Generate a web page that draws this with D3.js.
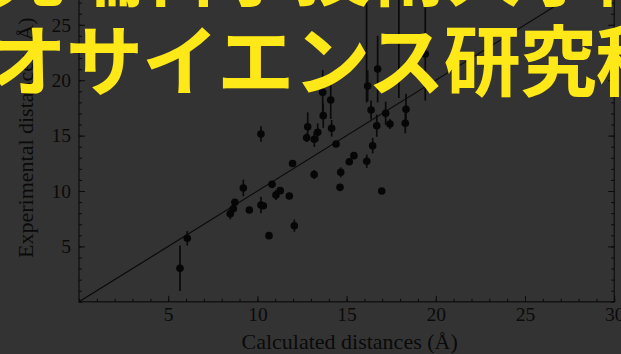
<!DOCTYPE html>
<html>
<head>
<meta charset="utf-8">
<script src="https://cdn.jsdelivr.net/npm/d3@7"></script>
<style>
  html, body { margin: 0; padding: 0; background: #333333; overflow: hidden; }
  svg { display: block; }
</style>
</head>
<body>
<script>
// Calculated vs. experimental inter-label distances (Å), with error bars
const calcDist = [5.66, 6.07, 8.48, 8.65, 8.74, 9.21, 9.55, 10.20, 10.33, 10.20,
  10.65, 10.82, 11.04, 11.28, 11.79, 11.97, 12.07, 12.76, 12.82, 13.18,
  13.19, 13.38, 13.66, 13.69, 14.11, 14.16, 14.41, 14.63, 14.67, 15.15,
  15.41, 16.12, 16.13, 16.18, 16.37, 16.46, 16.69, 16.74, 16.97, 17.19,
  17.43, 17.93, 18.29, 18.33, 19.41];
const expDist = [3.02, 5.73, 7.95, 8.40, 8.98, 10.27, 8.29, 8.74, 8.67, 15.14,
  5.97, 10.60, 9.64, 10.03, 9.55, 12.48, 6.87, 14.81, 15.80, 11.49,
  14.67, 15.30, 18.91, 16.80, 18.21, 15.66, 14.24, 10.33, 11.69, 12.64,
  13.19, 29.0, 12.69, 19.48, 17.31, 14.09, 15.89, 21.0, 10.00, 17.01,
  16.05, 29.0, 16.11, 17.37, 22.36];
const expErr = [2.05, 0.65, 0.5, 0.3, 0, 0.75, 0, 0.75, 0.3, 0.7,
  0.3, 0.2, 0.45, 0.2, 0, 0, 0.55, 0.4, 1.3, 0.4,
  0.7, 0.8, 2.0, 1.1, 1.7, 0.75, 0, 0, 0.45, 0,
  0.2, 11.0, 0.6, 1.4, 0.85, 0.7, 1.0, 3.0, 0, 1.05,
  0.45, 10.6, 0.9, 1.4, 4.2];

const xTickLabels = [5, 10, 15, 20, 25, 30];
const yTickLabels = [5, 10, 15, 20, 25, 30];
const axisRange = [0, 30];
const titleLines = ["先端科学技術大学院大学バイ", "オサイエンス研究科"];

const W = 621, H = 354;
const ink = "#0a0a0a";
const serif = "'Liberation Serif', 'Times New Roman', serif";

const svg = d3.select("body").append("svg").attr("width", W).attr("height", H);
svg.append("rect").attr("width", W).attr("height", H).attr("fill", "#333333");

const x = d3.scaleLinear().domain(axisRange).range([79, 614.2]);
const y = d3.scaleLinear().domain(axisRange).range([301.8, -30.6]);
const minorTicks = d3.range(axisRange[0], axisRange[1] + 1);

const plot = svg.append("g");

// frame
plot.append("rect")
  .attr("x", x(0)).attr("y", y(30))
  .attr("width", x(30) - x(0)).attr("height", y(0) - y(30))
  .attr("fill", "none").attr("stroke", ink).attr("stroke-width", 1.1);

function styleAxis(g) {
  g.select(".domain").remove();
  g.selectAll("line").attr("stroke", ink).attr("stroke-width", 1);
  g.selectAll("text").attr("fill", ink).attr("font-family", serif).attr("font-size", 19.5);
}

// bottom axis: inward ticks
plot.append("g").attr("transform", `translate(0,${y(0)})`)
  .call(d3.axisBottom(x).tickValues(minorTicks).tickSize(-3).tickFormat(""))
  .call(styleAxis);
plot.append("g").attr("transform", `translate(0,${y(0)})`)
  .call(d3.axisBottom(x).tickValues(xTickLabels).tickSize(-6).tickPadding(5).tickFormat(d3.format("d")))
  .call(styleAxis);

// left axis
plot.append("g").attr("transform", `translate(${x(0)},0)`)
  .call(d3.axisLeft(y).tickValues(minorTicks).tickSize(-3).tickFormat(""))
  .call(styleAxis);
plot.append("g").attr("transform", `translate(${x(0)},0)`)
  .call(d3.axisLeft(y).tickValues(yTickLabels).tickSize(-6).tickPadding(8).tickFormat(d3.format("d")))
  .call(styleAxis);

// right axis: ticks only
plot.append("g").attr("transform", `translate(${x(30)},0)`)
  .call(d3.axisRight(y).tickValues(minorTicks).tickSize(-3).tickFormat(""))
  .call(styleAxis);
plot.append("g").attr("transform", `translate(${x(30)},0)`)
  .call(d3.axisRight(y).tickValues(yTickLabels).tickSize(-6).tickFormat(""))
  .call(styleAxis);

// axis titles
plot.append("text")
  .attr("x", 241.5).attr("y", 349)
  .attr("font-family", serif).attr("font-size", 22).attr("fill", ink)
  .text("Calculated distances (Å)");
plot.append("text")
  .attr("transform", "translate(33,258) rotate(-90)")
  .attr("font-family", serif).attr("font-size", 22).attr("fill", ink)
  .text("Experimental distances (Å)");

// y = x reference line
plot.append("line")
  .attr("x1", x(0)).attr("y1", y(0)).attr("x2", x(30)).attr("y2", y(30))
  .attr("stroke", ink).attr("stroke-width", 1.2);

const pts = calcDist.map((c, i) => ({ c, e: expDist[i], err: expErr[i] }));

plot.append("g").selectAll("line").data(pts.filter(d => d.err > 0)).join("line")
  .attr("x1", d => x(d.c)).attr("x2", d => x(d.c))
  .attr("y1", d => y(d.e - d.err)).attr("y2", d => y(d.e + d.err))
  .attr("stroke", ink).attr("stroke-width", 1.7);

plot.append("g").selectAll("circle").data(pts).join("circle")
  .attr("cx", d => x(d.c)).attr("cy", d => y(d.e))
  .attr("r", 3.8).attr("fill", "#060606");

// yellow caption over the chart
const caption = svg.append("g")
  .attr("font-family", "'Noto Sans CJK JP', 'Noto Sans CJK SC', sans-serif")
  .attr("font-weight", 700).attr("font-size", 77).attr("fill", "#ffe817")
  .attr("letter-spacing", -1);
caption.selectAll("text").data(titleLines).join("text")
  .attr("x", -10).attr("y", (d, i) => 0 + i * 90)
  .text(d => d);
</script>
</body>
</html>
